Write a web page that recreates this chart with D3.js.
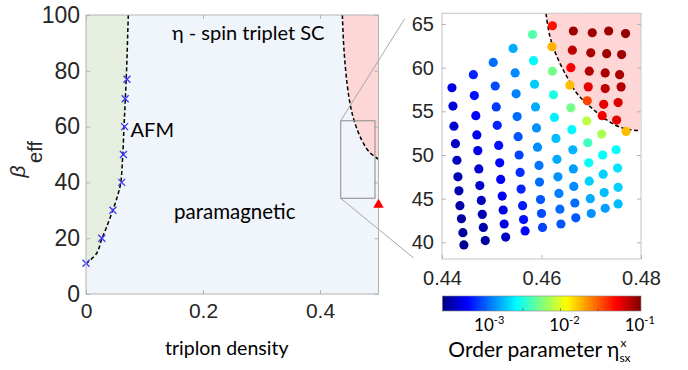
<!DOCTYPE html>
<html>
<head>
<meta charset="utf-8">
<script src="https://cdn.jsdelivr.net/npm/d3@7"></script>
<style>
  body { margin: 0; background: #fff; }
  svg { display: block; }
</style>
</head>
<body>
<svg id="chart" width="688" height="370"></svg>
<script>
// ---- left panel data (phase diagram) ----
const afmLineX    = [0, 0.0183, 0.0268, 0.0354, 0.0456, 0.0536, 0.0593, 0.0627, 0.065, 0.0672, 0.0696, 0.0723];
const afmLineBeta = [10.8, 14.6, 19.6, 24.1, 29.9, 34.9, 39.8, 49.2, 59.9, 69.8, 81.5, 100];
const afmCrossX    = [0, 0.027, 0.046, 0.061, 0.064, 0.066, 0.067, 0.070];
const afmCrossBeta = [11, 20, 30, 40, 50, 60, 70, 77];
const scLineX    = [0.4382, 0.4410, 0.4462, 0.4524, 0.4598, 0.4712, 0.4838, 0.4997];
const scLineBeta = [100, 87.5, 75.5, 67.1, 61.2, 55.2, 51.0, 48.3];
const triangleX = 0.5, triangleBeta = 32;
const zoomBoxX = [0.4354, 0.4940], zoomBoxBeta = [34.3, 62.1];
const leftXTicks = [0, 0.2, 0.4];
const leftYTicks = [0, 20, 40, 60, 80, 100];

// ---- right panel data (zoom, order parameter) ----
const scZoomX    = [0.4609, 0.4617, 0.4631, 0.4651, 0.4671, 0.4698, 0.4731, 0.4764, 0.4798];
const scZoomBeta = [66.2, 63.55, 61.26, 58.96, 57.06, 55.53, 54.01, 53.06, 52.78];

const dotX = [
  [0.4420, 0.4422, 0.4424, 0.4427, 0.4430, 0.4432, 0.4434, 0.4436, 0.4439, 0.4442, 0.4444],
  [0.4463, 0.4465, 0.4468, 0.4470, 0.4472, 0.4474, 0.4476, 0.4479, 0.4481, 0.4483, 0.4487],
  [0.4503, 0.4507, 0.4509, 0.4511, 0.4514, 0.4516, 0.4518, 0.4521, 0.4523, 0.4525, 0.4528],
  [0.4543, 0.4547, 0.4549, 0.4551, 0.4553, 0.4555, 0.4557, 0.4559, 0.4562, 0.4564, 0.4567],
  [0.4582, 0.4584, 0.4586, 0.4588, 0.4590, 0.4592, 0.4595, 0.4596, 0.4598, 0.4600, 0.4602],
  [0.4622, 0.4621, 0.4622, 0.4624, 0.4626, 0.4629, 0.4631, 0.4633, 0.4635, 0.4637, 0.4639],
  [0.4664, 0.4662, 0.4659, 0.4657, 0.4659, 0.4661, 0.4663, 0.4664, 0.4665, 0.4667, 0.4669],
  [0.4702, 0.4699, 0.4696, 0.4694, 0.4692, 0.4691, 0.4693, 0.4695, 0.4696, 0.4698, 0.4700],
  [0.4735, 0.4731, 0.4728, 0.4728, 0.4725, 0.4722, 0.4721, 0.4723, 0.4724, 0.4726, 0.4728],
  [0.4769, 0.4761, 0.4757, 0.4760, 0.4754, 0.4751, 0.4770, 0.4750, 0.4753, 0.4754, 0.4754]
];
const dotBeta = [
  [57.7, 55.6, 53.3, 51.3, 49.4, 47.5, 45.9, 44.2, 42.7, 41.1, 39.7],
  [59.2, 56.8, 54.5, 52.3, 50.5, 48.4, 46.5, 44.8, 43.2, 41.7, 40.2],
  [60.6, 57.9, 55.5, 53.4, 51.1, 49.1, 47.2, 45.3, 43.7, 42.1, 40.6],
  [62.2, 59.4, 57.0, 54.4, 52.1, 50.0, 48.0, 46.1, 44.2, 42.6, 41.3],
  [63.8, 60.8, 58.1, 55.5, 53.1, 50.9, 48.8, 46.9, 44.9, 43.3, 41.7],
  [64.8, 62.4, 59.6, 56.9, 54.3, 51.9, 49.5, 47.5, 45.6, 43.8, 42.1],
  [64.2, 62.0, 60.0, 58.0, 55.4, 52.9, 50.6, 48.4, 46.4, 44.5, 42.8],
  [64.0, 61.7, 59.6, 57.8, 56.2, 53.9, 51.4, 49.1, 47.0, 45.0, 43.3],
  [64.2, 61.6, 59.4, 57.6, 55.8, 54.5, 52.4, 50.0, 47.8, 45.7, 43.9],
  [63.9, 61.5, 59.2, 57.8, 56.0, 54.0, 52.7, 50.6, 48.5, 46.3, 44.4]
];
// log10 of the order parameter
const dotLogEta = [
  [-3.31, -3.33, -3.36, -3.39, -3.41, -3.44, -3.45, -3.46, -3.49, -3.50, -3.52],
  [-3.15, -3.20, -3.25, -3.28, -3.31, -3.35, -3.37, -3.40, -3.44, -3.46, -3.49],
  [-2.95, -3.04, -3.09, -3.15, -3.20, -3.23, -3.25, -3.28, -3.31, -3.33, -3.39],
  [-2.80, -2.88, -2.91, -2.96, -3.02, -3.07, -3.12, -3.15, -3.17, -3.20, -3.23],
  [-2.36, -2.59, -2.71, -2.80, -2.86, -2.88, -2.94, -2.96, -3.02, -3.04, -3.07],
  [-1.30, -1.72, -2.28, -2.51, -2.62, -2.75, -2.80, -2.86, -2.91, -2.96, -3.02],
  [-1.01, -1.09, -1.25, -1.75, -2.28, -2.59, -2.78, -2.83, -2.88, -2.96, -3.02],
  [-1.01, -1.04, -1.06, -1.19, -1.43, -2.09, -2.41, -2.57, -2.70, -2.80, -2.86],
  [-1.01, -1.01, -1.04, -1.09, -1.19, -1.22, -2.14, -2.58, -2.70, -2.75, -2.83],
  [-0.98, -1.01, -1.04, -1.06, -1.17, -1.19, -1.75, -2.57, -2.65, -2.70, -2.75]
];
const rightXTicks = [0.44, 0.46, 0.48];
const rightYTicks = [40, 45, 50, 55, 60, 65];
const colorDomain = [-3.57, -0.93];
const colorTicks = [-3, -2, -1];
const colorMinorTicks = [-3, -2.5, -2, -1.5, -1];

// MATLAB style jet colormap
function jet(t) {
    t = Math.max(0, Math.min(1, t));
    const c = v => Math.round(255 * Math.max(0, Math.min(1, v)));
    return `rgb(${c(1.5 - Math.abs(4 * t - 3))},${c(1.5 - Math.abs(4 * t - 2))},${c(1.5 - Math.abs(4 * t - 1))})`;
}

const svg = d3.select("#chart");
const numFont = "'Liberation Sans', Arial, sans-serif";
const textFont = "Lato, 'Open Sans', sans-serif";
const frameColor = "#b4b4b4";

// ---------------- left panel ----------------
const xL = d3.scaleLinear().domain([0, 0.5]).range([86, 378.5]);
const yL = d3.scaleLinear().domain([0, 100]).range([294, 15]);

const left = svg.append("g");
left.append("rect")
    .attr("x", xL(0)).attr("y", yL(100))
    .attr("width", xL(0.5) - xL(0)).attr("height", yL(0) - yL(100))
    .attr("fill", "#f0f4fb");

const afmPts = afmLineX.map((x, i) => [x, afmLineBeta[i]]);
const scPts = scLineX.map((x, i) => [x, scLineBeta[i]]);

const areaLine = d3.line().x(d => xL(d[0])).y(d => yL(d[1])).curve(d3.curveCatmullRom);

// AFM region (green)
left.append("path")
    .attr("d", areaLine(afmPts) + "L" + xL(0) + "," + yL(100) + "Z")
    .attr("fill", "#e6efdf");
// SC region (pink)
left.append("path")
    .attr("d", areaLine(scPts) + "L" + xL(0.5) + "," + yL(100) + "Z")
    .attr("fill", "#fdd6d6");

// boundaries
[afmPts, scPts].forEach(pts => {
    left.append("path")
        .attr("d", areaLine(pts))
        .attr("fill", "none")
        .attr("stroke", "#000")
        .attr("stroke-width", 1.5)
        .attr("stroke-dasharray", "4 2.5");
});

// blue crosses
left.selectAll(".cross")
    .data(afmCrossX.map((x, i) => [x, afmCrossBeta[i]]))
    .enter().append("path")
    .attr("class", "cross")
    .attr("transform", d => `translate(${xL(d[0])},${yL(d[1])})`)
    .attr("d", "M-3.5,-3.5L3.5,3.5M-3.5,3.5L3.5,-3.5")
    .attr("stroke", "#3a3af5")
    .attr("stroke-width", 1.3);

// frame + axes
left.append("rect")
    .attr("x", xL(0)).attr("y", yL(100))
    .attr("width", xL(0.5) - xL(0)).attr("height", yL(0) - yL(100))
    .attr("fill", "none").attr("stroke", frameColor);

function styleAxis(g, size) {
    g.select(".domain").remove();
    g.selectAll(".tick line").attr("stroke", frameColor);
    g.selectAll(".tick text")
        .attr("fill", "#262626")
        .style("font-family", numFont)
        .style("font-size", size + "px");
}

left.append("g")
    .attr("transform", `translate(0,${yL(0)})`)
    .call(d3.axisBottom(xL).tickValues(leftXTicks).tickSize(-4).tickPadding(9).tickFormat(d3.format("")))
    .call(g => styleAxis(g, 21));
left.append("g")
    .attr("transform", `translate(0,${yL(100)})`)
    .call(d3.axisTop(xL).tickValues(leftXTicks).tickSize(-4).tickFormat(""))
    .call(g => styleAxis(g, 21));
left.append("g")
    .attr("transform", `translate(${xL(0)},0)`)
    .call(d3.axisLeft(yL).tickValues(leftYTicks).tickSize(-4).tickPadding(6))
    .call(g => styleAxis(g, 23));
left.append("g")
    .attr("transform", `translate(${xL(0.5)},0)`)
    .call(d3.axisRight(yL).tickValues(leftYTicks).tickSize(-4).tickFormat(""))
    .call(g => styleAxis(g, 22));

// red triangle
left.append("path")
    .attr("transform", `translate(${xL(triangleX)},${yL(triangleBeta)})`)
    .attr("d", d3.symbol(d3.symbolTriangle).size(48))
    .attr("fill", "#ff0000");

// zoom box
left.append("rect")
    .attr("x", xL(zoomBoxX[0])).attr("y", yL(zoomBoxBeta[1]))
    .attr("width", xL(zoomBoxX[1]) - xL(zoomBoxX[0]))
    .attr("height", yL(zoomBoxBeta[0]) - yL(zoomBoxBeta[1]))
    .attr("fill", "none").attr("stroke", "#9a9a9a").attr("stroke-width", 1.2);

// phase labels
left.append("text").attr("x", xL(0.147)).attr("y", yL(90.9))
    .style("font-family", textFont).style("font-size", "20px").text("η - spin triplet SC");
left.append("text").attr("x", xL(0.0762)).attr("y", yL(56.2))
    .style("font-family", textFont).style("font-size", "20px").text("AFM");
left.append("text").attr("x", xL(0.1504)).attr("y", yL(26.9))
    .style("font-family", textFont).style("font-size", "20.5px").text("paramagnetic");

// axis titles
svg.append("text").attr("x", 226.7).attr("y", 354.5).attr("text-anchor", "middle")
    .style("font-family", textFont).style("font-size", "19.5px").text("triplon density");
svg.append("text").attr("transform", "translate(25,171.5) rotate(-90)").attr("text-anchor", "middle")
    .style("font-family", numFont).style("font-style", "italic").style("font-size", "21px")
    .attr("fill", "#262626").text("β");
svg.append("text").attr("transform", "translate(42,152) rotate(-90)").attr("text-anchor", "middle")
    .style("font-family", numFont).style("font-size", "20px")
    .attr("fill", "#262626").text("eff");

// ---------------- right panel ----------------
const xR = d3.scaleLinear().domain([0.44, 0.48]).range([442, 641]);
const yR = d3.scaleLinear().domain([38.09, 66.225]).range([259, 13.3]);

// connectors from zoom box
svg.append("line")
    .attr("x1", xL(zoomBoxX[0])).attr("y1", yL(zoomBoxBeta[1]))
    .attr("x2", xR(0.4325)).attr("y2", yR(65.6))
    .attr("stroke", "#a8a8a8");
svg.append("line")
    .attr("x1", xL(zoomBoxX[0])).attr("y1", yL(zoomBoxBeta[0]))
    .attr("x2", xR(0.4343)).attr("y2", yR(38.2))
    .attr("stroke", "#a8a8a8");

const right = svg.append("g");
right.append("clipPath").attr("id", "rclip").append("rect")
    .attr("x", xR(0.44)).attr("y", yR(66.225))
    .attr("width", xR(0.48) - xR(0.44)).attr("height", yR(38.09) - yR(66.225));

const zoomPts = scZoomX.map((x, i) => [x, scZoomBeta[i]]);
const lineR = d3.line().x(d => xR(d[0])).y(d => yR(d[1])).curve(d3.curveCatmullRom);
right.append("path")
    .attr("clip-path", "url(#rclip)")
    .attr("d", lineR(zoomPts) + "L" + xR(0.48) + "," + yR(66.225) + "Z")
    .attr("fill", "#ffd6d6");
right.append("path")
    .attr("clip-path", "url(#rclip)")
    .attr("d", lineR(zoomPts))
    .attr("fill", "none").attr("stroke", "#000")
    .attr("stroke-width", 1.5).attr("stroke-dasharray", "4 2.5");

const color = d3.scaleLinear().domain(colorDomain).range([0, 1]).clamp(true);
const dots = [];
dotX.forEach((col, c) => col.forEach((x, r) => dots.push({ x: x, beta: dotBeta[c][r], v: dotLogEta[c][r] })));

right.selectAll(".dot")
    .data(dots)
    .enter().append("circle")
    .attr("class", "dot")
    .attr("cx", d => xR(d.x))
    .attr("cy", d => yR(d.beta))
    .attr("r", 4.6)
    .attr("fill", d => jet(color(d.v)));

right.append("rect")
    .attr("x", xR(0.44)).attr("y", yR(66.225))
    .attr("width", xR(0.48) - xR(0.44)).attr("height", yR(38.09) - yR(66.225))
    .attr("fill", "none").attr("stroke", "#c4c4c4");

right.append("g")
    .attr("transform", `translate(0,${yR(38.09)})`)
    .call(d3.axisBottom(xR).tickValues(rightXTicks).tickSize(-4).tickPadding(12).tickFormat(d3.format(".2f")))
    .call(g => styleAxis(g, 20));
right.append("g")
    .attr("transform", `translate(${xR(0.44)},0)`)
    .call(d3.axisLeft(yR).tickValues(rightYTicks).tickSize(-4).tickPadding(8))
    .call(g => styleAxis(g, 20));
right.append("g")
    .attr("transform", `translate(${xR(0.48)},0)`)
    .call(d3.axisRight(yR).tickValues(rightYTicks).tickSize(-4).tickFormat(""))
    .call(g => styleAxis(g, 20));

// ---------------- colorbar ----------------
const cb = { y: 296, h: 15 };
const cbScale = d3.scaleLinear().domain(colorDomain).range([442.3, 641]);
const grad = svg.append("defs").append("linearGradient").attr("id", "jetgrad");
d3.range(0, 1.0001, 1 / 64).forEach(t => {
    grad.append("stop").attr("offset", (t * 100) + "%").attr("stop-color", jet(t));
});
svg.append("rect")
    .attr("x", cbScale(colorDomain[0])).attr("y", cb.y)
    .attr("width", cbScale(colorDomain[1]) - cbScale(colorDomain[0])).attr("height", cb.h)
    .attr("fill", "url(#jetgrad)").attr("stroke", "#888").attr("stroke-width", 0.6);
svg.selectAll(".cbtick")
    .data(colorMinorTicks)
    .enter().append("line")
    .attr("x1", d => cbScale(d)).attr("x2", d => cbScale(d))
    .attr("y1", cb.y + cb.h - 3).attr("y2", cb.y + cb.h)
    .attr("stroke", "#444").attr("stroke-opacity", 0.6);

const cbLabels = svg.selectAll(".cblabel")
    .data(colorTicks)
    .enter().append("text")
    .attr("x", d => cbScale(d) + 4).attr("y", 331)
    .attr("text-anchor", "middle")
    .style("font-family", textFont).style("font-size", "17px");
cbLabels.append("tspan").text("10");
cbLabels.append("tspan").attr("dy", -7).style("font-size", "11px").text(d => "-" + Math.abs(d));

// colorbar title with stacked super/subscript
const cbTitle = svg.append("text").attr("x", 448.3).attr("y", 356.7)
    .style("font-family", textFont).style("font-size", "21px").text("Order parameter η");
const titleEnd = 448.3 + cbTitle.node().getComputedTextLength();
svg.append("text").attr("x", titleEnd + 1).attr("y", 347)
    .style("font-family", textFont).style("font-size", "12px").text("x");
svg.append("text").attr("x", titleEnd).attr("y", 362)
    .style("font-family", textFont).style("font-size", "12px").text("sx");
</script>
</body>
</html>
